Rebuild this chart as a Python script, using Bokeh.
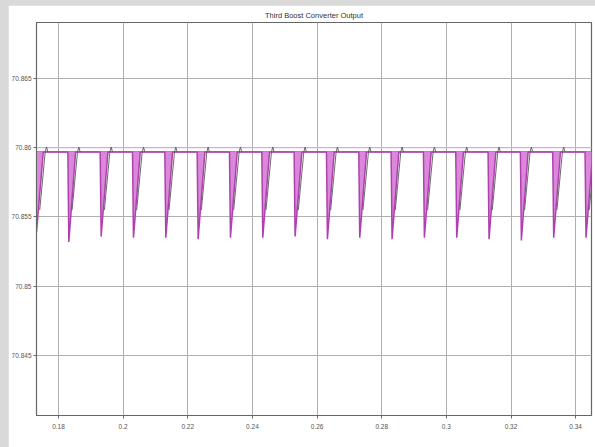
from bokeh.plotting import figure
from bokeh.models import Range1d, FixedTicker, CustomJSTickFormatter
from bokeh.embed import file_html
from bokeh.resources import INLINE

# ---- data ----
title_text = "Third Boost Converter Output"
x_ticks = [0.18, 0.20, 0.22, 0.24, 0.26, 0.28, 0.30, 0.32, 0.34]
y_ticks = [70.845, 70.85, 70.855, 70.86, 70.865]

dip_times = [0.1729, 0.1829, 0.1929, 0.2029, 0.2129, 0.2229, 0.2329, 0.2429, 0.2529,
             0.2629, 0.2729, 0.2829, 0.2929, 0.3029, 0.3129, 0.3229, 0.3329, 0.3429]
dip_minima = [70.8539, 70.8532, 70.8536, 70.8535, 70.8535, 70.8534, 70.8535, 70.8535, 70.8536,
              70.8534, 70.8535, 70.8534, 70.8535, 70.8535, 70.8534, 70.8533, 70.8535, 70.8535]
flat_level = 70.8597     # settled output between dips
ripple_top = 70.8600     # upper edge of switching ripple
dip_fall = 0.0003        # time from dip start to minimum
dip_recover = 0.0021     # envelope recovery time
avg_start = 0.0013       # averaged trace: visible start after dip
avg_start_drop = 0.0042  # averaged trace: depth at visible start
avg_recover = 0.0030     # averaged trace recovery time

x_start, x_end = 0.1732, 0.3449
y_start, y_end = 70.84067, 70.86904

# ---- build the envelope traces from the dip list ----
env_x, env_low = [x_start - 0.001], [flat_level]
avg_xs, avg_ys = [], []
for t0, vmin in zip(dip_times, dip_minima):
    env_x += [t0, t0 + dip_fall, t0 + dip_fall + dip_recover]
    env_low += [flat_level, vmin, flat_level]
    avg_xs.append([t0 + avg_start, t0 + avg_recover, t0 + avg_recover + 0.0004,
                   t0 + avg_recover + 0.0008])
    avg_ys.append([flat_level - avg_start_drop, flat_level, ripple_top + 0.00005, flat_level])
env_x.append(x_end + 0.001)
env_low.append(flat_level)

p = figure(width=587, height=442, output_backend="svg", toolbar_location=None,
           x_range=Range1d(x_start, x_end), y_range=Range1d(y_start, y_end),
           min_border_left=27, min_border_right=4, min_border_top=17, min_border_bottom=32)
p.styles = {"margin-left": "8px", "margin-top": "5px"}

p.title.text = title_text
p.title.align = "center"
p.title.text_font = "Liberation Sans"
p.title.text_font_size = "7.5px"
p.title.text_font_style = "normal"
p.title.text_color = "#333333"
p.title.standoff = 5

p.background_fill_color = "white"
p.border_fill_color = "white"
p.outline_line_color = "#666666"
p.outline_line_width = 1.2

for ax, ticks in ((p.xaxis[0], x_ticks), (p.yaxis[0], y_ticks)):
    ax.ticker = FixedTicker(ticks=ticks)
    ax.formatter = CustomJSTickFormatter(code="return (Math.round(tick*1000)/1000).toString();")
    ax.axis_line_color = "#666666"
    ax.major_tick_line_color = "#666666"
    ax.major_tick_out = 3
    ax.major_tick_in = 0
    ax.minor_tick_line_color = None
    ax.major_label_text_font = "Liberation Sans"
    ax.major_label_text_font_size = "6.5px"
    ax.major_label_text_color = "#555555"
p.yaxis[0].major_label_standoff = 2
p.xaxis[0].major_label_standoff = 5

p.xgrid.ticker = FixedTicker(ticks=x_ticks)
p.ygrid.ticker = FixedTicker(ticks=y_ticks)
p.grid.grid_line_color = "#b0b0b0"
p.grid.grid_line_width = 1

# ripple upper edge
p.line([x_start, x_end], [ripple_top, ripple_top], line_color="#e6a8e6", line_width=1.2)
# settled output (dark)
p.line([x_start, x_end], [flat_level, flat_level], line_color="#5a5a5a", line_width=1.0)
# ripple envelope fill
p.varea(x=env_x, y1=env_low, y2=[flat_level] * len(env_x), fill_color="#d882d8", fill_alpha=0.95)
p.line(env_x, env_low, line_color="#b040b0", line_width=1.5)
# averaged trace recoveries
p.multi_line(avg_xs, avg_ys, line_color="#5a5a5a", line_width=0.9)

html = file_html(p, INLINE)
html = html.replace("</head>",
                    "<style>html, body { background: #d9d9d9 !important; }</style>\n</head>", 1)
open("out.html", "w").write(html)
